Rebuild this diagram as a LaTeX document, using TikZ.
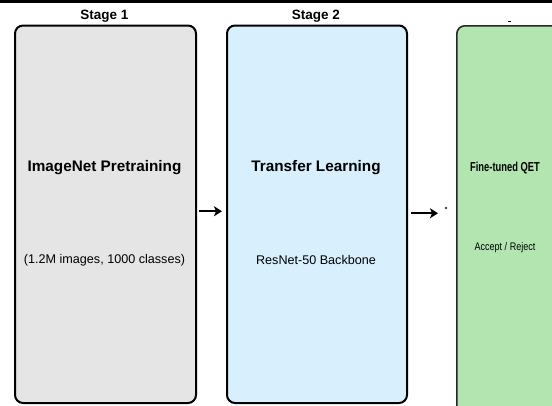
\documentclass[tikz,border=0pt]{standalone}
\usepackage{fontspec}
\setmainfont{Liberation Sans}
\usetikzlibrary{arrows.meta}
\definecolor{panelgrey}{HTML}{E5E5E5}
\definecolor{panelblue}{HTML}{D8EFFD}
\definecolor{panelgreen}{HTML}{B3E5B0}

\begin{document}
\begin{tikzpicture}[x=1pt,y=-1pt,
  stagebox/.style={line width=2pt, rounded corners=8pt, inner sep=0pt,
    anchor=north west, minimum height=377.5pt},
  stagetitle/.style={font=\bfseries\fontsize{13.5}{16}\selectfont, inner sep=0pt},
  headline/.style={font=\bfseries\fontsize{15.3}{18}\selectfont, inner sep=0pt},
  subline/.style={font=\fontsize{12.6}{15}\selectfont, inner sep=0pt},
  flowarrow/.style={line width=2pt, -{Stealth[length=8pt,width=10pt,inset=2pt]}}]
\useasboundingbox (0,0) rectangle (552,405);
\fill[white] (0,0) rectangle (552,405);
\clip (0,0) rectangle (552,405);

% dark strip along the top edge
\fill[black] (0,0) rectangle (552,3);

% stage panels
\node[stagebox, draw=black, fill=panelgrey, minimum width=181pt] (b1) at (14,24.5) {};
\node[stagebox, draw=black, fill=panelblue, minimum width=180pt] (b2) at (226,24.5) {};
\node[stagebox, draw=black!85, line width=1.6pt, fill=panelgreen, minimum width=160pt, minimum height=420pt] (b3) at (456,25) {};

% titles
\node[stagetitle] (t1) at (104.5,16.5) {Stage 1};
\node[stagetitle] (t2) at (316,16.5) {Stage 2};
\draw[line width=1pt] (507.5,21) -- (510.5,21);

% panel texts
\node[headline] (h1) at (104.5,168) {ImageNet Pretraining};
\node[subline] (s1) at (104.5,260) {(1.2M images, 1000 classes)};
\node[headline] (h2) at (316,168) {Transfer Learning};
\node[subline] (s2) at (316,260) {ResNet-50 Backbone};
\node[font=\bfseries\fontsize{13}{15}\selectfont, inner sep=0pt] (h3) at (505,168) {\scalebox{0.72}[1]{Fine-tuned QET}};
\node[font=\fontsize{11}{13}\selectfont, inner sep=0pt] (s3) at (505,248) {\scalebox{0.82}[1]{Accept / Reject}};

% connectors
\draw[flowarrow] ([xshift=2pt,yshift=3pt]b1.east) -- ([xshift=-4pt,yshift=3pt]b2.west);
\coordinate (c3) at ([xshift=-18pt,yshift=1pt]b3.west |- b2.east);
\draw[flowarrow] ([xshift=3pt,yshift=1pt]b2.east) -- (c3);
\fill (446,208) circle (1.2pt);
\end{tikzpicture}
\end{document}
